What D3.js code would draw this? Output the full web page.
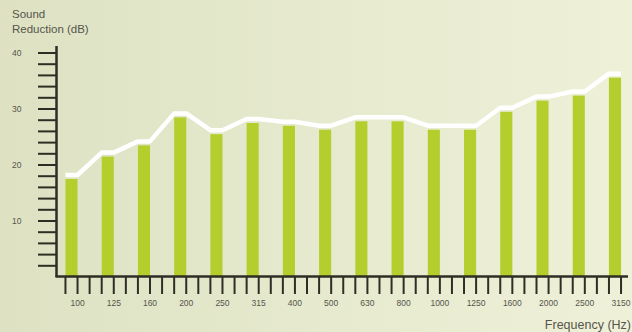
<!DOCTYPE html>
<html>
<head>
<meta charset="utf-8">
<script src="https://cdn.jsdelivr.net/npm/d3@7/dist/d3.min.js"></script>
<style>
  html, body { margin: 0; padding: 0; overflow: hidden; }
  text { font-family: "Liberation Sans", Arial, sans-serif; fill: #55554c; }
</style>
</head>
<body>
<script>
// data
var freqs = ["100", "125", "160", "200", "250", "315", "400", "500",
             "630", "800", "1000", "1250", "1600", "2000", "2500", "3150"];
var reduction = [17.5, 21.5, 23.5, 28.5, 25.5, 27.5, 27, 26.3,
                 27.8, 27.8, 26.3, 26.3, 29.5, 31.5, 32.4, 35.6];
var yLabels = [10, 20, 30, 40];

var W = 632, H = 332;

var svg = d3.select("body").append("svg")
    .attr("width", W)
    .attr("height", H);

var defs = svg.append("defs");
var grad = defs.append("linearGradient")
    .attr("id", "bg")
    .attr("x1", "0").attr("y1", "0")
    .attr("x2", "1").attr("y2", "0");
grad.append("stop").attr("offset", "0").attr("stop-color", "#dee2c3");
grad.append("stop").attr("offset", "1").attr("stop-color", "#eef1d8");

svg.append("rect")
    .attr("width", W)
    .attr("height", H)
    .attr("fill", "url(#bg)");

// scales
var x = d3.scalePoint()
    .domain(freqs)
    .range([71.5, 615]);
var step = x.step();
var barW = step / 3;

var y = d3.scaleLinear()
    .domain([0, 40])
    .range([277, 53]);

// bars
svg.selectAll("rect.bar")
    .data(reduction)
    .enter().append("rect")
    .attr("class", "bar")
    .attr("x", function(d, i) { return x(freqs[i]) - barW / 2; })
    .attr("y", function(d) { return y(d); })
    .attr("width", barW)
    .attr("height", function(d) { return y(0) - y(d); })
    .attr("fill", "#b3ce2d");

// white outline line, flat over each bar
var pts = [];
reduction.forEach(function(d, i) {
  var cx = x(freqs[i]);
  pts.push([cx - barW / 2, y(d) - 4]);
  pts.push([cx + barW / 2, y(d) - 4]);
});
svg.append("path")
    .attr("d", d3.line()(pts))
    .attr("fill", "none")
    .attr("stroke", "#ffffff")
    .attr("stroke-width", 4.5)
    .attr("stroke-linejoin", "round");

var axisColor = "#2e2e24";

// y axis
var yTicks = d3.range(2, 41, 2);
svg.selectAll("line.ytick")
    .data(yTicks)
    .enter().append("line")
    .attr("x1", 38).attr("x2", 56)
    .attr("y1", function(d) { return y(d); })
    .attr("y2", function(d) { return y(d); })
    .attr("stroke", axisColor)
    .attr("stroke-width", 2);

svg.selectAll("text.ylab")
    .data(yLabels)
    .enter().append("text")
    .attr("x", 12)
    .attr("y", function(d) { return y(d) + 3; })
    .style("font-size", "8.5px")
    .text(function(d) { return d; });

svg.append("line")
    .attr("x1", 56.5).attr("x2", 56.5)
    .attr("y1", 46).attr("y2", 277)
    .attr("stroke", axisColor)
    .attr("stroke-width", 2.5);

// x axis
svg.append("line")
    .attr("x1", 55.5).attr("x2", 628)
    .attr("y1", 276.5).attr("y2", 276.5)
    .attr("stroke", axisColor)
    .attr("stroke-width", 2.5);

var xTicks = [];
freqs.forEach(function(f, i) {
  var cx = x(f);
  xTicks.push(cx - step / 6);
  xTicks.push(cx + step / 6);
  if (i < freqs.length - 1) xTicks.push(cx + step / 2);
});
svg.selectAll("line.xtick")
    .data(xTicks)
    .enter().append("line")
    .attr("x1", function(d) { return d; })
    .attr("x2", function(d) { return d; })
    .attr("y1", 277).attr("y2", 294)
    .attr("stroke", axisColor)
    .attr("stroke-width", 2);

svg.selectAll("text.xlab")
    .data(freqs)
    .enter().append("text")
    .attr("x", function(d) { return x(d) + step / 6; })
    .attr("y", 306)
    .attr("text-anchor", "middle")
    .style("font-size", "8.5px")
    .text(function(d) { return d; });

// titles
svg.append("text")
    .attr("x", 12).attr("y", 18)
    .style("font-size", "11.5px")
    .text("Sound");
svg.append("text")
    .attr("x", 12).attr("y", 33)
    .style("font-size", "11.5px")
    .text("Reduction (dB)");

svg.append("text")
    .attr("x", 631).attr("y", 329)
    .attr("text-anchor", "end")
    .style("font-size", "12.5px")
    .text("Frequency (Hz)");
</script>
</body>
</html>
